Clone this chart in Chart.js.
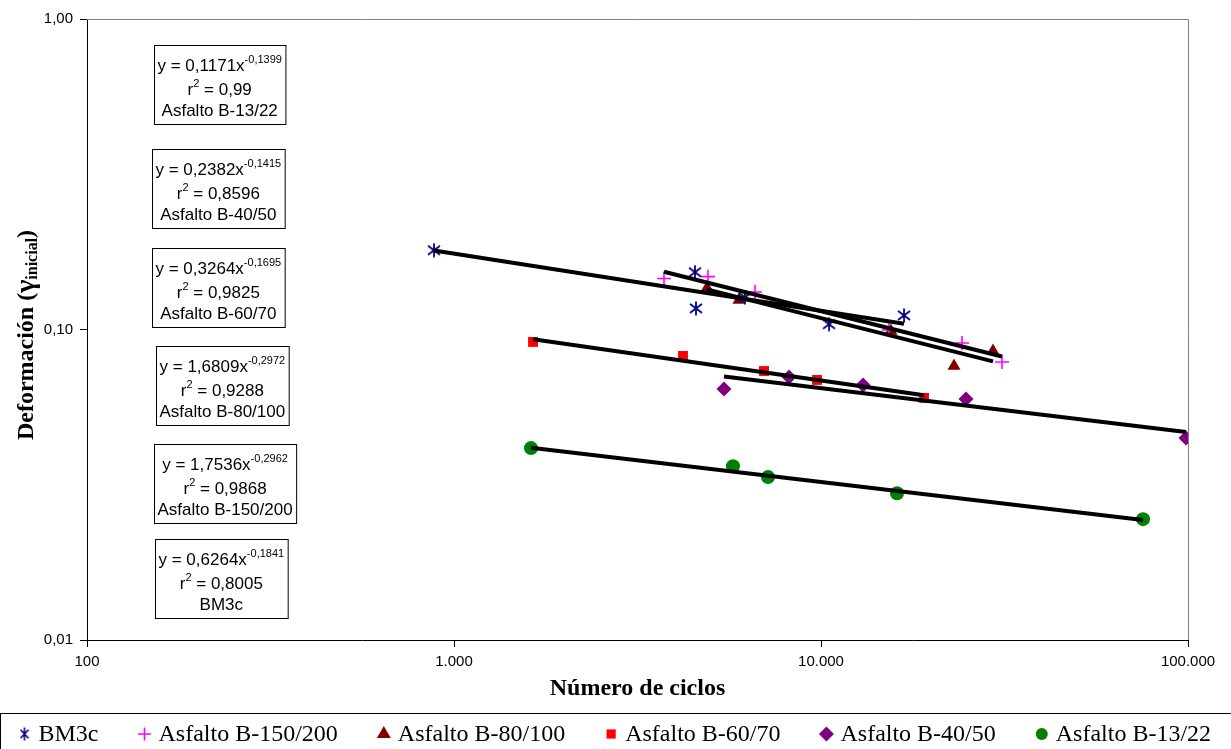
<!DOCTYPE html>
<html>
<head>
<meta charset="utf-8">
<script src="https://cdn.jsdelivr.net/npm/chart.js@4.4.1/dist/chart.umd.min.js"></script>
<style>
  html, body { margin: 0; padding: 0; background: #fff; }
  #wrap { width: 1231px; height: 749px; }
</style>
</head>
<body>
<div id="wrap"><canvas id="chart" width="1231" height="749"></canvas></div>
<script>
// series, in legend order
const seriesNames = ['BM3c', 'Asfalto B-150/200', 'Asfalto B-80/100', 'Asfalto B-60/70', 'Asfalto B-40/50', 'Asfalto B-13/22'];
const seriesColors = ['#000080', '#FF00FF', '#800000', '#FF0000', '#800080', '#008000'];

// número de ciclos / deformación
const ciclosBM3c = [882, 4536, 4564, 6207, 10515, 16836];
const defBM3c = [0.180, 0.153, 0.117, 0.127, 0.104, 0.111];
const ciclos150 = [3734, 4921, 6611, 15320, 24230, 31130];
const def150 = [0.146, 0.148, 0.132, 0.0996, 0.0905, 0.0786];
const ciclos80 = [4891, 5978, 15510, 23040, 29420];
const def80 = [0.136, 0.1245, 0.0989, 0.0763, 0.0853];
const ciclos60 = [1642, 4207, 6994, 9752, 19090];
const def60 = [0.0912, 0.0822, 0.0735, 0.0688, 0.0602];
const ciclos40 = [5441, 8180, 13020, 24840, 98770];
const def40 = [0.0643, 0.0703, 0.0663, 0.0597, 0.0447];
const ciclos13 = [1621, 5757, 7171, 16110, 75410];
const def13 = [0.0415, 0.0363, 0.0335, 0.0297, 0.0245];

// power trend lines y = a x^b shown in the boxes
const trendCoef = [0.6264, 1.7536, 1.6809, 0.3264, 0.2382, 0.1171];
const trendExp = [-0.1841, -0.2962, -0.2972, -0.1695, -0.1415, -0.1399];
const trendR2 = [0.8005, 0.9868, 0.9288, 0.9825, 0.8596, 0.99];

const xTicks = [100, 1000, 10000, 100000];
const xTickLabels = ['100', '1.000', '10.000', '100.000'];
const yTicks = [0.01, 0.1, 1];
const yTickLabels = ['0,01', '0,10', '1,00'];

const seriesX = [ciclosBM3c, ciclos150, ciclos80, ciclos60, ciclos40, ciclos13];
const seriesY = [defBM3c, def150, def80, def60, def40, def13];

const SANS = '"Liberation Sans", Arial, sans-serif';
const SERIF = '"Liberation Serif", "Times New Roman", serif';

function makeAsterisk(w, h, color, lw) {
  const c = document.createElement('canvas');
  c.width = w; c.height = h;
  const g = c.getContext('2d');
  g.strokeStyle = color;
  g.lineWidth = lw;
  g.beginPath();
  g.moveTo(w / 2, 0.5); g.lineTo(w / 2, h - 0.5);
  g.moveTo(1, h * 0.2); g.lineTo(w - 1, h * 0.8);
  g.moveTo(w - 1, h * 0.2); g.lineTo(1, h * 0.8);
  g.stroke();
  return c;
}
const asterisk = makeAsterisk(14, 15, seriesColors[0], 1.8);
const asteriskSmall = makeAsterisk(10, 14, seriesColors[0], 1.6);

const pointStyles = [asterisk, 'cross', 'triangle', 'rect', 'rectRot', 'circle'];
const pointSizes = [7, 7, 7.5, 7, 7.5, 7];
const legendSizes = [7, 6.5, 8, 6.5, 7.5, 6];

const datasets = [];
seriesNames.forEach((name, i) => {
  datasets.push({
    label: name,
    data: seriesX[i].map((x, k) => ({ x: x, y: seriesY[i][k] })),
    pointStyle: pointStyles[i],
    pointRadius: pointSizes[i],
    pointHoverRadius: pointSizes[i],
    backgroundColor: seriesColors[i],
    borderColor: seriesColors[i],
    pointBorderWidth: i === 1 ? 1.6 : 0,
    showLine: false,
    order: 1
  });
});
seriesNames.forEach((name, i) => {
  const xmin = Math.min(...seriesX[i]);
  const xmax = Math.max(...seriesX[i]);
  datasets.push({
    label: 'trend ' + name,
    data: [xmin, xmax].map(x => ({ x: x, y: trendCoef[i] * Math.pow(x, trendExp[i]) })),
    showLine: true,
    borderColor: '#000',
    borderWidth: 4,
    pointRadius: 0,
    pointHoverRadius: 0,
    order: 0
  });
});

const fmt = v => String(v).replace('.', ',');

// equation boxes, top to bottom
const boxSeries = [5, 4, 3, 2, 1, 0];
const boxLeft = [154, 152, 152, 156, 154, 155];
const boxTop = [45, 149, 248, 346, 444, 539];

function drawBox(ctx, i, left, top) {
  const main = '17px ' + SANS, sup = '11px ' + SANS;
  const l1a = 'y = ' + fmt(trendCoef[i]) + 'x', l1b = fmt(trendExp[i]);
  const l2a = 'r', l2b = '2', l2c = ' = ' + fmt(trendR2[i]);
  const l3 = seriesNames[i];
  ctx.font = main;
  const w1a = ctx.measureText(l1a).width, w2a = ctx.measureText(l2a).width;
  const w2c = ctx.measureText(l2c).width, w3 = ctx.measureText(l3).width;
  ctx.font = sup;
  const w1b = ctx.measureText(l1b).width, w2b = ctx.measureText(l2b).width;
  const w1 = w1a + w1b, w2 = w2a + w2b + w2c;
  const width = Math.max(w1, w2, w3) + 7;
  const height = 79;
  ctx.fillStyle = '#fff';
  ctx.fillRect(left, top, width, height);
  ctx.strokeStyle = '#000';
  ctx.lineWidth = 1;
  ctx.strokeRect(left + 0.5, top + 0.5, width, height);
  const cx = left + width / 2;
  ctx.fillStyle = '#000';
  ctx.textBaseline = 'alphabetic';
  ctx.textAlign = 'left';
  let x = cx - w1 / 2, b = top + 26;
  ctx.font = main; ctx.fillText(l1a, x, b);
  ctx.font = sup; ctx.fillText(l1b, x + w1a, b - 8);
  x = cx - w2 / 2; b = top + 50;
  ctx.font = main; ctx.fillText(l2a, x, b);
  ctx.font = sup; ctx.fillText(l2b, x + w2a, b - 8);
  ctx.font = main; ctx.fillText(l2c, x + w2a + w2b, b);
  ctx.fillText(l3, cx - w3 / 2, top + 71);
}

const decor = {
  id: 'decor',
  beforeDatasetsDraw(chart) {
    const { ctx, chartArea: a } = chart;
    ctx.save();
    ctx.strokeStyle = '#808080';
    ctx.lineWidth = 1;
    ctx.beginPath();
    ctx.moveTo(a.left, a.top + 0.5);
    ctx.lineTo(a.right + 0.5, a.top + 0.5);
    ctx.lineTo(a.right + 0.5, a.bottom);
    ctx.stroke();
    ctx.restore();
  },
  afterDraw(chart) {
    const ctx = chart.ctx;
    ctx.save();
    boxSeries.forEach((s, k) => drawBox(ctx, s, boxLeft[k], boxTop[k]));

    // y axis title with subscript
    ctx.translate(25, 335);
    ctx.rotate(-Math.PI / 2);
    const parts = [
      { t: 'Deformación (', f: 'bold 24px ' + SERIF, dy: 0 },
      { t: 'γ', f: 'bold 28px ' + SERIF, dy: 1 },
      { t: 'inicial', f: 'bold 16px ' + SERIF, dy: 4 },
      { t: ')', f: 'bold 24px ' + SERIF, dy: 0 }
    ];
    let total = 0;
    parts.forEach(p => { ctx.font = p.f; p.w = ctx.measureText(p.t).width; total += p.w; });
    let px = -total / 2;
    ctx.fillStyle = '#000';
    ctx.textAlign = 'left';
    ctx.textBaseline = 'alphabetic';
    parts.forEach(p => { ctx.font = p.f; ctx.fillText(p.t, px, 8 + p.dy); px += p.w; });
    ctx.restore();

    // legend
    ctx.save();
    ctx.strokeStyle = '#000';
    ctx.lineWidth = 1;
    ctx.strokeRect(0.5, 713.5, 1240, 60);
    const drawPoint = Chart.helpers && Chart.helpers.drawPoint;
    let mx = 24.5;
    const ly = 734;
    ctx.textBaseline = 'middle';
    seriesNames.forEach((name, i) => {
      ctx.fillStyle = seriesColors[i];
      ctx.strokeStyle = seriesColors[i];
      ctx.lineWidth = 1.6;
      if (i === 0) {
        ctx.drawImage(asteriskSmall, mx - 5, ly - 7);
      } else if (drawPoint) {
        drawPoint(ctx, { pointStyle: pointStyles[i], radius: legendSizes[i], rotation: 0, borderWidth: i === 1 ? 1.6 : 0 }, mx, ly);
      } else {
        ctx.fillRect(mx - 4, ly - 4, 8, 8);
      }
      ctx.fillStyle = '#000';
      ctx.font = '24px ' + SERIF;
      ctx.fillText(name, mx + 14, ly + 1);
      mx += 14 + ctx.measureText(name).width + 46;
    });
    ctx.restore();
  }
};

new Chart(document.getElementById('chart'), {
  type: 'scatter',
  data: { datasets: datasets },
  options: {
    responsive: false,
    animation: false,
    devicePixelRatio: 1,
    layout: { padding: { left: 0, right: 43, top: 19, bottom: 0 } },
    plugins: { legend: { display: false }, tooltip: { enabled: false } },
    scales: {
      x: {
        type: 'logarithmic',
        position: 'bottom',
        min: 100,
        max: 100000,
        afterBuildTicks: s => { s.ticks = xTicks.map(v => ({ value: v })); },
        afterFit: s => { s.height = 109; },
        grid: { display: true, drawOnChartArea: false, drawTicks: true, tickLength: 7, color: '#000', tickColor: '#000' },
        border: { display: true, color: '#000', width: 1 },
        ticks: {
          autoSkip: false, maxRotation: 0, padding: 6, color: '#000',
          font: { family: SANS, size: 15 },
          callback: (v, idx) => xTickLabels[idx]
        },
        title: {
          display: true, text: 'Número de ciclos', color: '#000',
          font: { family: SERIF, size: 24, weight: 'bold' },
          padding: { top: 0, bottom: 46 }
        }
      },
      y: {
        type: 'logarithmic',
        min: 0.01,
        max: 1,
        afterBuildTicks: s => { s.ticks = yTicks.map(v => ({ value: v })); },
        afterFit: s => { s.width = 87; },
        grid: { display: true, drawOnChartArea: false, drawTicks: true, tickLength: 7, color: '#000', tickColor: '#000' },
        border: { display: true, color: '#000', width: 1 },
        ticks: {
          autoSkip: false, padding: 7, color: '#000',
          font: { family: SANS, size: 15 },
          callback: (v, idx) => yTickLabels[idx]
        }
      }
    }
  },
  plugins: [decor]
});
</script>
</body>
</html>
